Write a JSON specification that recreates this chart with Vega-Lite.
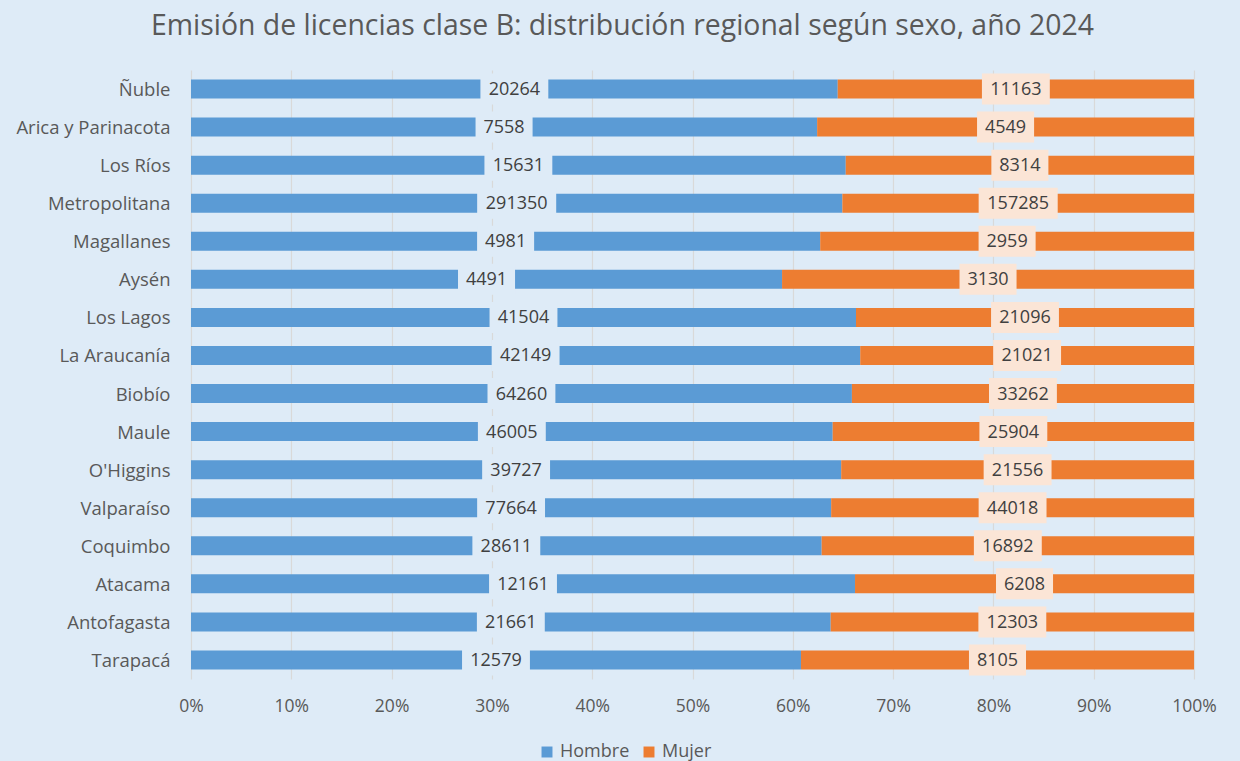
{
  "$schema": "https://vega.github.io/schema/vega-lite/v6.json",
  "width": 1003,
  "height": 609,
  "autosize": "none",
  "padding": {"left": 191, "top": 70, "right": 46, "bottom": 82},
  "background": "#deebf7",
  "title": {
    "text": "Emisión de licencias clase B: distribución regional según sexo, año 2024",
    "font": "Open Sans",
    "fontSize": 28.4,
    "fontWeight": "normal",
    "color": "#595959",
    "anchor": "middle",
    "dx": -70,
    "offset": 29
  },
  "config": {
    "view": {"stroke": null},
    "font": "Open Sans"
  },
  "data": {
    "values": [
      {"region": "Ñuble", "sexo": "Hombre", "value": 20264},
      {"region": "Ñuble", "sexo": "Mujer", "value": 11163},
      {"region": "Arica y Parinacota", "sexo": "Hombre", "value": 7558},
      {"region": "Arica y Parinacota", "sexo": "Mujer", "value": 4549},
      {"region": "Los Ríos", "sexo": "Hombre", "value": 15631},
      {"region": "Los Ríos", "sexo": "Mujer", "value": 8314},
      {"region": "Metropolitana", "sexo": "Hombre", "value": 291350},
      {"region": "Metropolitana", "sexo": "Mujer", "value": 157285},
      {"region": "Magallanes", "sexo": "Hombre", "value": 4981},
      {"region": "Magallanes", "sexo": "Mujer", "value": 2959},
      {"region": "Aysén", "sexo": "Hombre", "value": 4491},
      {"region": "Aysén", "sexo": "Mujer", "value": 3130},
      {"region": "Los Lagos", "sexo": "Hombre", "value": 41504},
      {"region": "Los Lagos", "sexo": "Mujer", "value": 21096},
      {"region": "La Araucanía", "sexo": "Hombre", "value": 42149},
      {"region": "La Araucanía", "sexo": "Mujer", "value": 21021},
      {"region": "Biobío", "sexo": "Hombre", "value": 64260},
      {"region": "Biobío", "sexo": "Mujer", "value": 33262},
      {"region": "Maule", "sexo": "Hombre", "value": 46005},
      {"region": "Maule", "sexo": "Mujer", "value": 25904},
      {"region": "O'Higgins", "sexo": "Hombre", "value": 39727},
      {"region": "O'Higgins", "sexo": "Mujer", "value": 21556},
      {"region": "Valparaíso", "sexo": "Hombre", "value": 77664},
      {"region": "Valparaíso", "sexo": "Mujer", "value": 44018},
      {"region": "Coquimbo", "sexo": "Hombre", "value": 28611},
      {"region": "Coquimbo", "sexo": "Mujer", "value": 16892},
      {"region": "Atacama", "sexo": "Hombre", "value": 12161},
      {"region": "Atacama", "sexo": "Mujer", "value": 6208},
      {"region": "Antofagasta", "sexo": "Hombre", "value": 21661},
      {"region": "Antofagasta", "sexo": "Mujer", "value": 12303},
      {"region": "Tarapacá", "sexo": "Hombre", "value": 12579},
      {"region": "Tarapacá", "sexo": "Mujer", "value": 8105}
    ]
  },
  "transform": [
    {"stack": "value", "groupby": ["region"], "offset": "normalize", "sort": [{"field": "sexo", "order": "ascending"}], "as": ["v0", "v1"]},
    {"calculate": "(datum.v0 + datum.v1) / 2", "as": "mid"},
    {"calculate": "length(toString(datum.value))", "as": "digits"}
  ],
  "encoding": {
    "y": {
      "field": "region",
      "type": "nominal",
      "sort": ["Ñuble", "Arica y Parinacota", "Los Ríos", "Metropolitana", "Magallanes", "Aysén", "Los Lagos", "La Araucanía", "Biobío", "Maule", "O'Higgins", "Valparaíso", "Coquimbo", "Atacama", "Antofagasta", "Tarapacá"],
      "scale": {"paddingInner": 0.5, "paddingOuter": 0.25},
      "axis": {
        "title": null,
        "ticks": false,
        "domain": false,
        "labelPadding": 21,
        "labelFontSize": 18.5,
        "labelColor": "#595959",
        "labelFont": "Open Sans",
        "labelOffset": 1
      }
    }
  },
  "layer": [
    {
      "mark": {"type": "bar"},
      "encoding": {
        "x": {
          "field": "v0",
          "type": "quantitative",
          "scale": {"domain": [0, 1], "nice": false},
          "axis": {
            "title": null,
            "values": [0, 0.1, 0.2, 0.3, 0.4, 0.5, 0.6, 0.7, 0.8, 0.9, 1],
            "format": ".0%",
            "ticks": false,
            "domain": false,
            "grid": true,
            "gridColor": "#d9d9d9",
            "gridWidth": 1.2,
            "labelFlush": false,
            "labelPadding": 18,
            "labelFontSize": 17.5,
            "labelColor": "#595959",
            "labelFont": "Open Sans"
          }
        },
        "x2": {"field": "v1"},
        "color": {
          "field": "sexo",
          "type": "nominal",
          "scale": {"domain": ["Hombre", "Mujer"], "range": ["#5b9bd5", "#ed7d31"]},
          "legend": {
            "title": null,
            "orient": "none",
            "direction": "horizontal",
            "legendX": 347,
            "legendY": 673,
            "symbolType": "square",
            "symbolSize": 120,
            "symbolStrokeWidth": 0,
            "labelFontSize": 18,
            "labelColor": "#595959",
            "labelFont": "Open Sans",
            "columnPadding": 10,
            "labelOffset": 4
          }
        }
      }
    },
    {
      "mark": {"type": "point", "filled": true, "opacity": 1, "size": 961, "strokeWidth": 0},
      "encoding": {
        "x": {"field": "mid", "type": "quantitative"},
        "shape": {
          "field": "digits",
          "type": "ordinal",
          "scale": {"domain": [4, 5, 6], "range": ["M-1.84,-1H1.84V1H-1.84Z", "M-2.19,-1H2.19V1H-2.19Z", "M-2.55,-1H2.55V1H-2.55Z"]},
          "legend": null
        },
        "fill": {
          "condition": {"test": "datum.sexo === 'Hombre'", "value": "#deebf7"},
          "value": "#fbe5d6"
        }
      }
    },
    {
      "mark": {"type": "text", "fontSize": 18, "color": "#404040", "font": "Open Sans", "baseline": "middle", "dy": 1},
      "encoding": {
        "x": {"field": "mid", "type": "quantitative"},
        "text": {"field": "value", "type": "quantitative", "format": "d"}
      }
    }
  ]
}
